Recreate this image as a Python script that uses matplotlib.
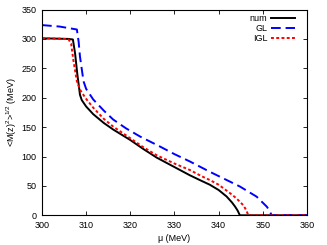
import matplotlib
matplotlib.use("Agg")
import matplotlib.pyplot as plt

plt.rcParams['font.family'] = ['Liberation Sans', 'DejaVu Sans']
plt.rcParams['mathtext.fontset'] = 'custom'
plt.rcParams['mathtext.rm'] = 'Liberation Sans'

mu_num = [300, 303, 306, 307, 307.5, 308, 308.6, 309.0, 310, 311.6, 314, 316.1, 320, 322.9, 326, 330,
          333.5, 336, 338, 340, 341.8, 343, 343.7, 344.3, 344.8, 350, 360]
m_num = [301, 300.5, 300, 299, 275, 240, 205, 196, 185, 172, 157, 146, 128, 113, 98, 82,
         68, 59, 52, 43, 32, 22, 15, 8, 0, 0, 0]

mu_gl = [300, 304, 307.9, 308.3, 308.6, 309.4, 310, 311.6, 314, 316.1, 319, 322.2, 326.7, 330,
         333.5, 338, 341, 344.8, 348.6, 350.9, 351.5, 352, 360]
m_gl = [323.5, 321, 316, 295, 270, 228, 215, 197, 178, 163, 148, 134, 117, 104,
        91.5, 74, 63, 49, 31.7, 14.7, 8, 0, 0]

mu_igl = [300, 304, 306, 306.6, 307.1, 307.9, 308.6, 309, 310, 311.6, 314, 316.1, 320, 322.9, 326, 330,
          333.5, 336, 338, 340, 342.6, 344, 345.6, 346.3, 346.7, 360]
m_igl = [301, 300.5, 299.5, 292, 264, 228, 214, 209, 198, 183, 164, 151, 131, 116, 102, 88,
         77, 67, 60, 52, 37.5, 29, 17, 8, 0, 0]

xticks = [300, 310, 320, 330, 340, 350, 360]
yticks = [0, 50, 100, 150, 200, 250, 300, 350]

fig = plt.figure(figsize=(3.27, 2.45), dpi=100)
ax = fig.add_axes([0.1284, 0.1212, 0.8104, 0.8400])

ax.plot(mu_num, m_num, color='black', lw=1.4, label='num')
ax.plot(mu_gl, m_gl, color='#0000ff', lw=1.4, ls=(0, (5, 2.5)), label='GL')
ax.plot(mu_igl, m_igl, color='#ff0000', lw=1.4, ls=(0, (1.5, 1.2)), label='IGL')

ax.set_xlim(300, 360)
ax.set_ylim(0, 350)
ax.set_xticks(xticks)
ax.set_yticks(yticks)
ax.tick_params(direction='in', length=3, width=0.6, labelsize=6.5,
               top=True, right=True)
ax.tick_params(axis='x', pad=4)
ax.tick_params(axis='y', pad=4)
for s in ax.spines.values():
    s.set_linewidth(0.8)

ax.set_xlabel('μ (MeV)', fontsize=6.5, labelpad=3)
ax.set_ylabel('<M(z)$^{2}$>$^{1/2}$ (MeV)', fontsize=6.5, labelpad=2)

leg = ax.legend(loc='upper right', frameon=False, fontsize=6.5, markerfirst=False,
                handlelength=2.6, handletextpad=0.4, labelspacing=0.1,
                borderaxespad=0.2, borderpad=0.3)
for t in leg.get_texts():
    t.set_ha('right')
leg._legend_box.align = 'right'
leg.set_bbox_to_anchor((0.97, 1.0), transform=ax.transAxes)

fig.savefig('out.png', dpi=100)
